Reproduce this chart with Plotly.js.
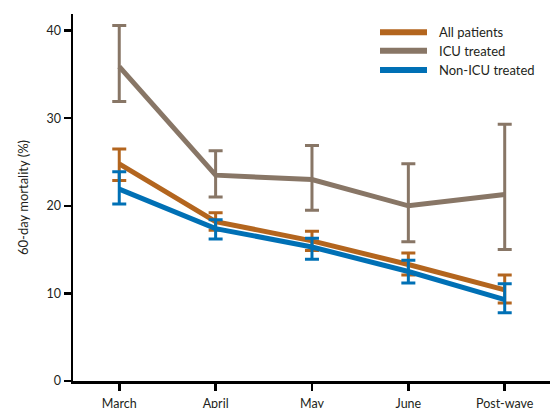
<!DOCTYPE html>
<html>
<head>
<meta charset="utf-8">
<script src="https://cdn.plot.ly/plotly-3.0.1.min.js"></script>
<style>html,body{margin:0;padding:0;background:#fff;}#chart{width:550px;height:408px;}</style>
</head>
<body>
<div id="chart"></div>
<script>
const categories = ["March", "April", "May", "June", "Post-wave"];

const allPatients      = [24.8, 18.2, 16.0, 13.3, 10.4];
const allPatientsHigh  = [26.5, 19.2, 17.1, 14.6, 12.1];
const allPatientsLow   = [22.9, 17.2, 14.9, 12.1, 8.9];

const icuTreated       = [35.9, 23.5, 23.0, 20.0, 21.3];
const icuTreatedHigh   = [40.6, 26.3, 26.9, 24.8, 29.3];
const icuTreatedLow    = [31.9, 21.0, 19.5, 15.9, 15.0];

const nonIcuTreated     = [21.9, 17.4, 15.3, 12.5, 9.3];
const nonIcuTreatedHigh = [23.9, 18.4, 16.3, 13.8, 11.1];
const nonIcuTreatedLow  = [20.2, 16.2, 13.9, 11.2, 7.8];

const yTicks = [0, 10, 20, 30, 40];

const seriesNames  = ["All patients", "ICU treated", "Non-ICU treated"];
const seriesColors = ["#b3651e", "#887666", "#0070b5"];

function mk(name, vals, hi, lo, color) {
  return {
    type: "scatter", mode: "lines", name: name,
    x: categories, y: vals,
    line: {color: color, width: 5},
    error_y: {
      type: "data", symmetric: false,
      array: vals.map((v, i) => hi[i] - v),
      arrayminus: vals.map((v, i) => v - lo[i]),
      color: color, thickness: 3, width: 7
    }
  };
}

const data = [
  mk(seriesNames[0], allPatients, allPatientsHigh, allPatientsLow, seriesColors[0]),
  mk(seriesNames[1], icuTreated, icuTreatedHigh, icuTreatedLow, seriesColors[1]),
  mk(seriesNames[2], nonIcuTreated, nonIcuTreatedHigh, nonIcuTreatedLow, seriesColors[2])
];

// plot area in pixels: x 73..550, y 14..381
const PL = 73, PR = 550, PT = 14, PB = 381;
const px = v => (v - PL) / (PR - PL);
const py = v => (PB - v) / (PB - PT);
const legendRows = [32.3, 50.8, 70];

const shapes = [], annotations = [];
seriesNames.forEach((n, i) => {
  shapes.push({type: "line", xref: "paper", yref: "paper",
    x0: px(380), x1: px(427), y0: py(legendRows[i]), y1: py(legendRows[i]),
    line: {color: seriesColors[i], width: 6}});
  annotations.push({xref: "paper", yref: "paper", x: px(437), y: py(legendRows[i]),
    xanchor: "left", yanchor: "middle", showarrow: false, text: n,
    font: {size: 13, color: "#231f20"}});
});

const layout = {
  width: 550, height: 408,
  margin: {l: 73, r: 0, t: 14, b: 27},
  paper_bgcolor: "#fff", plot_bgcolor: "#fff",
  font: {family: "Lato, 'Open Sans', sans-serif", size: 12, color: "#231f20"},
  showlegend: false,
  shapes: shapes, annotations: annotations,
  xaxis: {
    type: "category", range: [-0.48, 4.47],
    showline: true, linecolor: "#000", linewidth: 2.5,
    ticks: "outside", ticklen: 7, tickwidth: 2.5, tickcolor: "#000",
    showgrid: false, zeroline: false, ticklabelstandoff: 2,
    tickfont: {size: 12.5, color: "#231f20"}
  },
  yaxis: {
    range: [0, 41.9],
    tickvals: yTicks, ticktext: yTicks.map(String),
    showline: true, linecolor: "#000", linewidth: 2.5,
    ticks: "outside", ticklen: 7, tickwidth: 2.5, tickcolor: "#000",
    showgrid: false, zeroline: false,
    tickfont: {size: 12.5, color: "#231f20"},
    title: {text: "60-day mortality (%)", font: {size: 13, color: "#231f20"}, standoff: 15}
  }
};

Plotly.newPlot("chart", data, layout, {staticPlot: true, displayModeBar: false});
</script>
</body>
</html>
